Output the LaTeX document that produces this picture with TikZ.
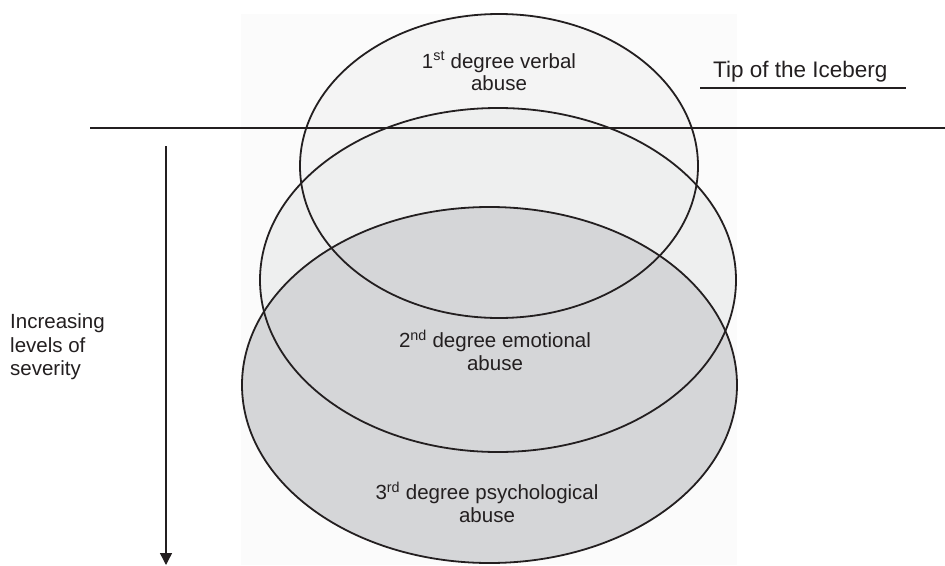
\documentclass[tikz,border=0pt]{standalone}
\usepackage{fontspec}
\setmainfont{Liberation Sans}
\usetikzlibrary{shapes.geometric,arrows.meta}
\definecolor{ink}{HTML}{231F20}
\definecolor{bgpanel}{HTML}{FBFBFB}
\definecolor{fillA}{HTML}{F4F4F4}
\definecolor{fillB}{HTML}{EEEFEF}
\definecolor{fillC}{HTML}{D5D6D8}
\tikzset{
  blob/.style={ellipse, inner sep=0pt, draw=none},
  outline/.style={draw=ink, line width=1.8pt},
  lbl/.style={text=ink, font=\fontsize{20.5}{22.5}\selectfont, align=center, inner sep=0pt},
}
\begin{document}
\begin{tikzpicture}[x=1pt,y=-1pt]
\useasboundingbox (0,0) rectangle (945,565);
\fill[white] (0,0) rectangle (945,565);
\fill[bgpanel] (241,14) rectangle (737,565);
% fills
\node[blob, fill=fillA, minimum width=398pt, minimum height=304pt] (e1) at (499,166) {};
\node[blob, fill=fillB, minimum width=476pt, minimum height=344pt] (e2) at (498,280) {};
\node[blob, fill=fillC, minimum width=495pt, minimum height=356pt] (e3) at (489.5,385) {};
% outlines
\draw[outline] (e1.center) ellipse [x radius=199pt, y radius=152pt];
\draw[outline] (e2.center) ellipse [x radius=238pt, y radius=172pt];
\draw[outline] (e3.center) ellipse [x radius=247.5pt, y radius=178pt];
% waterline
\coordinate (wl) at (90,128);
\coordinate (wr) at (945,128);
\draw[ink, line width=1.9pt] (wl) -- (wr);
% labels
\node[lbl] (t1) at (499,71) {1\textsuperscript{st} degree verbal\\abuse};
\node[lbl] (t2) at (495,350) {2\textsuperscript{nd} degree emotional\\abuse};
\node[lbl] (t3) at (487,502) {3\textsuperscript{rd} degree psychological\\abuse};
\node[lbl, align=left, anchor=west, font=\fontsize{20.5}{23.5}\selectfont] (sev) at (10,347) {Increasing\\levels of\\severity};
\node[text=ink, anchor=base west, inner sep=0pt, font=\fontsize{22.5}{24}\selectfont] (tip) at (713,77) {Tip of the Iceberg};
\coordinate (ul) at (700,88);
\coordinate (ur) at (906,88);
\draw[ink, line width=2.8pt] (ul) -- (ur);
% arrow
\coordinate (as) at (166,146);
\coordinate (ae) at (166,565);
\draw[ink, line width=1.4pt, -{Triangle[length=12pt,width=12pt]}] (as) -- (ae);
\end{tikzpicture}
\end{document}
